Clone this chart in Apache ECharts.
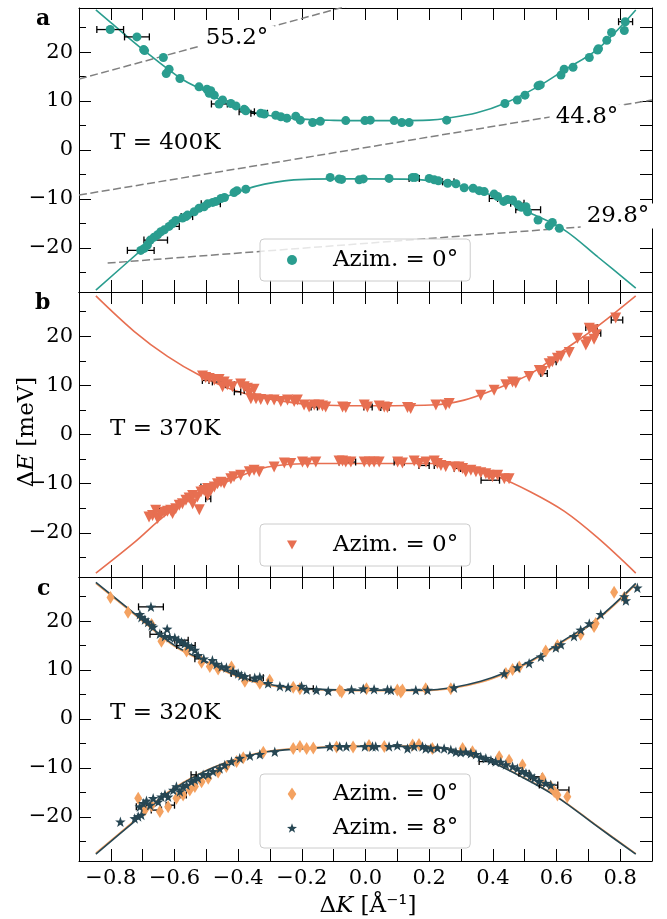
<!DOCTYPE html>
<html><head><meta charset="utf-8">
<script src="https://cdn.jsdelivr.net/npm/echarts@6/dist/echarts.min.js"></script>
<style>html,body{margin:0;padding:0;background:#fff}#c{width:667px;height:919px}</style>
</head><body><div id="c"></div>
<script>
// ---------- tick values ----------
const xTicks = [-0.8,-0.7,-0.6,-0.5,-0.4,-0.3,-0.2,-0.1,0,0.1,0.2,0.3,0.4,0.5,0.6,0.7,0.8];
const xLabels = [-0.8,-0.6,-0.4,-0.2,0,0.2,0.4,0.6,0.8];
const yMajor = [-20,-10,0,10,20];
const yMinor = [-25,-15,-5,5,15,25];
const yAll = [-25,-20,-15,-10,-5,0,5,10,15,20,25];

// ---------- panel a (T = 400K) ----------
const aUp = [[-0.802,24.6],[-0.718,23.1],[-0.697,20.5],[-0.694,20.3],[-0.635,18.9],[-0.626,15.6],[-0.617,16.5],[-0.583,14.6],[-0.523,12.9],[-0.498,12.4],[-0.486,12.1],[-0.475,11.2],[-0.491,11.6],[-0.449,10.2],[-0.460,9.4],[-0.423,9.5],[-0.407,9.0],[-0.381,8.3],[-0.376,8.0],[-0.329,7.5],[-0.318,7.35],[-0.282,7.1],[-0.266,6.8],[-0.247,6.5],[-0.219,6.9],[-0.205,6.1],[-0.166,5.6],[-0.142,5.85],[-0.062,6.0],[-0.002,6.0],[0.015,6.1],[0.090,6.0],[0.114,5.6],[0.137,5.6],[0.255,6.1],[0.438,9.5],[0.477,10.2],[0.501,11.2],[0.542,13.1],[0.549,13.3],[0.614,15.3],[0.624,16.5],[0.652,16.9],[0.703,18.9],[0.729,20.4],[0.732,20.7],[0.758,22.4],[0.773,24.0],[0.813,24.4],[0.816,26.2]];
const aLow = [[-0.706,-20.5],[-0.695,-20.1],[-0.685,-19.4],[-0.676,-18.4],[-0.664,-17.8],[-0.653,-17.3],[-0.643,-16.7],[-0.632,-16.3],[-0.617,-15.6],[-0.606,-15.0],[-0.596,-14.4],[-0.575,-13.9],[-0.564,-13.6],[-0.559,-13.3],[-0.538,-12.6],[-0.523,-11.9],[-0.507,-11.6],[-0.496,-11.0],[-0.480,-10.7],[-0.470,-10.5],[-0.454,-9.9],[-0.443,-9.7],[-0.413,-8.7],[-0.404,-8.3],[-0.376,-8.0],[-0.111,-5.6],[-0.083,-5.9],[-0.075,-6.0],[-0.020,-6.1],[-0.007,-5.9],[0.074,-5.8],[0.148,-5.6],[0.156,-5.6],[0.200,-5.8],[0.216,-6.1],[0.229,-6.3],[0.258,-6.8],[0.284,-6.9],[0.310,-7.7],[0.338,-7.8],[0.357,-8.3],[0.373,-8.5],[0.404,-9.0],[0.415,-9.5],[0.434,-10.5],[0.446,-10.1],[0.462,-10.2],[0.480,-11.2],[0.490,-11.7],[0.504,-11.6],[0.509,-12.6],[0.542,-14.3],[0.577,-15.5],[0.587,-14.8],[0.609,-16.0]];
const aErr = [[-0.802,24.6,0.042],[-0.718,23.1,0.039],[-0.459,9.4,0.025],[-0.373,7.8,0.024],[-0.334,7.5,0.026],[-0.706,-20.5,0.042],[-0.659,-18.4,0.037],[-0.603,-15.6,0.018],[-0.561,-13.6,0.018],[-0.486,-11.0,0.03],[0.817,26.2,0.022],[0.153,-5.8,0.016],[0.260,-6.5,0.018],[0.402,-9.9,0.013],[0.477,-10.9,0.021],[0.511,-12.2,0.039]];
const aFitUp = [[-0.847,28.6],[-0.80,26.0],[-0.697,20.4],[-0.58,14.6],[-0.50,11.9],[-0.413,8.8],[-0.308,7.1],[-0.20,6.3],[-0.10,6.05],[0,6.0],[0.10,6.0],[0.20,6.1],[0.258,6.5],[0.35,7.6],[0.436,9.5],[0.546,13.1],[0.624,16.3],[0.729,20.6],[0.849,28.6]];
const aFitLow = [[-0.847,-28.6],[-0.70,-20.2],[-0.622,-15.8],[-0.517,-11.9],[-0.376,-8.0],[-0.255,-6.3],[-0.10,-5.9],[0,-5.9],[0.153,-6.0],[0.31,-7.5],[0.415,-9.7],[0.519,-12.9],[0.624,-16.3],[0.729,-21.8],[0.849,-28.2]];
const guide552 = [[-0.9,14.5],[0.0,30.4]];
const guide448 = [[-0.9,-9.2],[0.9,10.2]];
const guide298 = [[-0.81,-23.1],[0.9,-14.6]];

// ---------- panel b (T = 370K) ----------
const bUp = [[-0.512,11.9],[-0.502,11.6],[-0.491,11.4],[-0.475,11.1],[-0.460,11.2],[-0.444,10.7],[-0.449,9.7],[-0.434,10.1],[-0.418,9.7],[-0.392,10.3],[-0.381,9.7],[-0.371,9.4],[-0.350,9.2],[-0.365,8.4],[-0.360,7.3],[-0.344,7.3],[-0.329,7.1],[-0.308,7.0],[-0.287,7.0],[-0.266,6.7],[-0.245,7.0],[-0.224,6.7],[-0.214,7.0],[-0.193,6.0],[-0.177,5.6],[-0.161,6.0],[-0.146,6.0],[-0.135,5.8],[-0.125,5.6],[-0.072,5.6],[-0.062,5.5],[-0.004,6.0],[0.006,5.6],[0.043,5.8],[0.059,5.6],[0.069,5.5],[0.132,5.5],[0.142,5.3],[0.221,6.0],[0.252,6.0],[0.263,6.3],[0.362,8.0],[0.404,9.0],[0.441,10.1],[0.462,10.7],[0.472,10.5],[0.514,11.8],[0.546,13.0],[0.556,12.8],[0.577,14.4],[0.587,14.8],[0.603,15.5],[0.614,15.9],[0.640,16.7],[0.666,19.6],[0.692,18.2],[0.697,18.9],[0.703,21.6],[0.718,21.3],[0.718,19.4],[0.724,20.3],[0.786,23.7]];
const bLow = [[-0.680,-16.8],[-0.669,-16.5],[-0.653,-17.1],[-0.643,-16.3],[-0.632,-15.8],[-0.622,-15.6],[-0.612,-15.4],[-0.596,-15.1],[-0.585,-14.4],[-0.575,-14.1],[-0.564,-13.4],[-0.554,-12.9],[-0.543,-12.4],[-0.528,-12.7],[-0.522,-15.3],[-0.517,-11.7],[-0.507,-11.4],[-0.496,-11.0],[-0.486,-11.4],[-0.475,-10.7],[-0.465,-10.0],[-0.454,-9.7],[-0.444,-9.9],[-0.423,-9.0],[-0.413,-8.6],[-0.392,-8.3],[-0.365,-7.6],[-0.350,-7.3],[-0.334,-7.6],[-0.287,-6.6],[-0.255,-5.8],[-0.235,-5.9],[-0.198,-5.6],[-0.182,-5.8],[-0.156,-5.6],[-0.083,-5.4],[-0.659,-15.4],[-0.606,-16.1],[-0.543,-14.1],[-0.496,-12.4],[-0.072,-5.4],[-0.062,-5.6],[-0.046,-5.6],[-0.004,-5.6],[0.012,-5.6],[0.027,-5.6],[0.043,-5.6],[0.101,-5.6],[0.116,-5.8],[0.153,-5.4],[0.169,-5.9],[0.190,-5.6],[0.216,-5.4],[0.226,-5.9],[0.237,-6.3],[0.252,-6.5],[0.279,-6.6],[0.294,-6.6],[0.305,-6.9],[0.315,-7.6],[0.331,-7.3],[0.347,-7.6],[0.362,-7.8],[0.378,-8.0],[0.388,-8.3],[0.399,-8.6],[0.415,-8.3],[0.436,-9.0],[0.451,-9.0]];
const bErr = [[-0.502,11.0,0.0105],[-0.465,10.7,0.016],[-0.425,10.1,0.013],[-0.402,8.7,0.010],[-0.365,9.0,0.016],[-0.161,5.6,0.010],[-0.509,-10.7,0.008],[-0.494,-13.1,0.008],[-0.638,-15.1,0.016],[0.008,5.6,0.013],[0.061,5.5,0.013],[-0.057,-5.6,0.026],[0.106,-5.6,0.016],[0.184,-6.3,0.016],[0.226,-6.3,0.010],[0.289,-6.9,0.010],[0.392,-9.3,0.029],[0.710,21.8,0.018],[0.729,20.6,0.010],[0.790,23.3,0.018],[0.561,12.4,0.010],[0.591,14.8,0.008]];
const bFitUp = [[-0.847,28.2],[-0.727,21.0],[-0.622,15.9],[-0.517,11.9],[-0.413,9.0],[-0.308,7.3],[-0.151,6.0],[-0.004,5.85],[0.205,6.0],[0.31,7.0],[0.415,9.4],[0.519,12.4],[0.624,17.2],[0.729,22.0],[0.849,28.2]];
const bFitLow = [[-0.847,-28.2],[-0.727,-22.0],[-0.622,-16.1],[-0.517,-12.0],[-0.413,-9.0],[-0.308,-6.6],[-0.151,-5.9],[-0.004,-5.9],[0.205,-5.9],[0.31,-6.6],[0.415,-8.6],[0.519,-11.7],[0.624,-15.6],[0.729,-21.0],[0.849,-28.2]];

// ---------- panel c (T = 320K) ----------
const c0Up = [[-0.801,24.8],[-0.746,21.8],[-0.672,19.3],[-0.641,15.9],[-0.562,13.9],[-0.515,11.6],[-0.489,10.7],[-0.463,10.2],[-0.421,10.6],[-0.379,7.7],[-0.332,7.3],[-0.301,7.9],[-0.227,6.5],[-0.206,6.2],[-0.081,5.8],[-0.075,5.5],[0.003,6.2],[0.100,5.9],[0.111,5.5],[0.116,5.9],[0.189,6.2],[0.268,6.2],[0.441,9.3],[0.462,10.1],[0.483,10.6],[0.566,13.9],[0.603,15.0],[0.676,17.3],[0.718,18.9],[0.723,19.5],[0.781,25.9],[0.813,24.8]];
const c0Low = [[-0.714,-16.2],[-0.693,-18.6],[-0.672,-17.7],[-0.646,-18.9],[-0.620,-17.9],[-0.594,-16.2],[-0.573,-15.5],[-0.552,-14.5],[-0.536,-13.8],[-0.515,-12.8],[-0.494,-12.1],[-0.463,-10.8],[-0.437,-9.7],[-0.405,-8.7],[-0.384,-7.9],[-0.321,-6.8],[-0.227,-6.0],[-0.206,-5.6],[-0.185,-6.0],[-0.164,-5.9],[-0.091,-5.7],[-0.039,-5.7],[0.011,-5.4],[0.059,-5.6],[0.148,-5.3],[0.168,-5.2],[0.210,-6.0],[0.305,-6.0],[0.336,-6.7],[0.420,-7.7],[0.451,-8.4],[0.493,-9.4],[0.556,-12.1],[0.582,-13.8],[0.593,-14.8],[0.603,-15.5],[0.634,-15.9]];
const c8Up = [[-0.674,22.9],[-0.709,21.4],[-0.704,20.8],[-0.693,20.3],[-0.683,19.8],[-0.672,19.1],[-0.667,18.8],[-0.623,18.4],[-0.646,17.4],[-0.630,16.9],[-0.615,16.7],[-0.599,16.6],[-0.588,16.1],[-0.578,15.7],[-0.568,15.4],[-0.557,15.0],[-0.547,14.6],[-0.536,14.1],[-0.526,13.0],[-0.508,12.3],[-0.481,12.0],[-0.468,11.2],[-0.452,10.7],[-0.437,10.5],[-0.416,9.8],[-0.400,9.3],[-0.390,8.9],[-0.379,8.7],[-0.348,8.4],[-0.332,8.6],[-0.306,7.3],[-0.269,6.7],[-0.243,6.5],[-0.201,6.7],[-0.185,6.0],[-0.154,5.9],[-0.117,5.7],[-0.044,6.0],[-0.007,6.2],[0.027,6.1],[0.069,6.0],[0.080,5.9],[0.158,5.9],[0.195,5.9],[0.278,6.4],[0.436,9.3],[0.477,10.5],[0.514,11.4],[0.551,12.7],[0.598,14.6],[0.614,15.2],[0.655,16.9],[0.676,18.2],[0.703,19.5],[0.739,21.4],[0.813,25.0],[0.818,24.2],[0.854,26.8]];
const c8Low = [[-0.770,-21.0],[-0.725,-20.3],[-0.714,-19.9],[-0.704,-19.6],[-0.709,-17.9],[-0.698,-17.2],[-0.688,-16.7],[-0.677,-17.6],[-0.667,-16.2],[-0.651,-16.9],[-0.641,-15.9],[-0.630,-15.4],[-0.620,-15.9],[-0.604,-14.5],[-0.594,-13.8],[-0.583,-14.8],[-0.573,-13.8],[-0.562,-13.5],[-0.547,-12.8],[-0.536,-12.4],[-0.526,-12.1],[-0.510,-11.4],[-0.494,-11.3],[-0.479,-10.7],[-0.458,-10.1],[-0.442,-9.4],[-0.421,-8.7],[-0.395,-8.0],[-0.363,-7.5],[-0.332,-7.2],[-0.285,-6.7],[-0.112,-5.6],[-0.081,-5.6],[-0.060,-5.6],[-0.002,-5.6],[0.022,-5.6],[0.032,-5.6],[0.074,-5.6],[0.100,-5.4],[0.132,-6.0],[0.153,-5.6],[0.179,-5.6],[0.189,-6.0],[0.205,-6.0],[0.226,-5.9],[0.247,-6.0],[0.268,-6.3],[0.284,-6.7],[0.299,-6.8],[0.315,-6.7],[0.331,-7.0],[0.347,-7.2],[0.362,-7.7],[0.378,-8.0],[0.394,-8.4],[0.409,-8.7],[0.425,-8.8],[0.441,-9.3],[0.462,-9.7],[0.477,-10.1],[0.493,-10.7],[0.504,-11.1],[0.519,-11.6],[0.530,-12.1],[0.545,-12.7],[0.566,-13.1],[0.582,-13.5]];
const cErr = [[-0.674,22.9,0.039],[-0.659,17.3,0.018],[-0.578,16.1,0.021],[-0.564,15.0,0.029],[-0.526,12.3,0.010],[-0.414,9.3,0.008],[-0.342,8.4,0.021],[-0.185,6.2,0.021],[-0.704,-17.9,0.016],[-0.657,-18.6,0.016],[-0.613,-17.6,0.013],[-0.573,-15.5,0.010],[-0.540,-11.4,0.008],[0.498,-11.1,0.016],[0.537,-11.8,0.018],[0.575,-13.5,0.029],[0.621,-14.5,0.018],[0.378,-8.7,0.021]];
const c8FitUp = [[-0.847,27.9],[-0.706,20.5],[-0.601,15.1],[-0.496,11.6],[-0.392,8.6],[-0.287,6.9],[-0.151,6.1],[-0.004,5.9],[0.184,5.9],[0.279,6.5],[0.362,7.7],[0.436,9.4],[0.519,11.9],[0.624,16.1],[0.729,20.5],[0.849,27.7]];
const c8FitLow = [[-0.847,-27.6],[-0.727,-21.0],[-0.622,-15.2],[-0.517,-11.1],[-0.413,-8.4],[-0.308,-6.7],[-0.151,-5.9],[-0.004,-5.6],[0.184,-5.6],[0.289,-6.6],[0.394,-8.8],[0.498,-12.1],[0.603,-16.0],[0.729,-22.0],[0.849,-27.6]];
const c0FitUp = [[-0.847,27.7],[-0.706,20.3],[-0.601,14.9],[-0.496,11.4],[-0.392,8.4],[-0.287,6.7],[-0.151,6.0],[-0.004,5.8],[0.184,5.8],[0.279,6.35],[0.362,7.5],[0.436,9.2],[0.519,11.7],[0.624,15.9],[0.729,20.3],[0.849,27.5]];
const c0FitLow = [[-0.847,-27.4],[-0.727,-20.8],[-0.622,-15.0],[-0.517,-11.0],[-0.413,-8.3],[-0.308,-6.6],[-0.151,-5.8],[-0.004,-5.5],[0.184,-5.5],[0.289,-6.5],[0.394,-8.7],[0.498,-12.0],[0.603,-15.9],[0.729,-21.9],[0.849,-27.5]];

const legendText = {a0:'Azim. = 0°', b0:'Azim. = 0°', c0:'Azim. = 0°', c8:'Azim. = 8°'};

// ---------- styling ----------
const FONT = 'DejaVu Serif';
const TEAL = '#2a9d8f', RED = '#e76f51', ORANGE = '#f4a261', DARK = '#264653';
const STAR = 'path://M0,-10L2.35,-3.24L9.51,-3.09L3.8,1.24L5.88,8.09L0,4L-5.88,8.09L-3.8,1.24L-9.51,-3.09L-2.35,-3.24Z';
const TRI_DOWN = 'path://M0,0L10,0L5,9Z';
const THIN_D = 'path://M4,0L8,6L4,12L0,6Z';
const grids = [{top:8,height:284},{top:292,height:285},{top:577,height:284}];

function xFmt(v){ return v.toFixed(1).replace('-','\u2212').replace('\u22120.0','0.0'); }
function yFmt(v){ return String(Math.round(v)).replace('-','\u2212'); }

const xAxis = [], yAxis = [];
grids.forEach((g, i) => {
  const line = {show:true, onZero:false, lineStyle:{color:'#000', width:1}};
  const tick = len => ({show:true, inside:true, length:len, lineStyle:{color:'#000', width:1}});
  xAxis.push({type:'value', gridIndex:i, position:'bottom', min:-0.9, max:0.9, axisLine:line,
    axisTick:Object.assign(tick(12), {customValues:xTicks}),
    axisLabel:{show:i===2, customValues:xLabels, formatter:xFmt, margin:7, color:'#000', fontFamily:FONT, fontSize:21},
    splitLine:{show:false}});
  xAxis.push({type:'value', gridIndex:i, position:'top', min:-0.9, max:0.9, axisLine:line,
    axisTick:Object.assign(tick(12), {customValues:xTicks}), axisLabel:{show:false}, splitLine:{show:false}});
  yAxis.push({type:'value', gridIndex:i, position:'left', min:-29, max:29, axisLine:line,
    axisTick:Object.assign(tick(12), {customValues:yMajor}),
    axisLabel:{show:true, customValues:yMajor, formatter:yFmt, margin:6, color:'#000', fontFamily:FONT, fontSize:21},
    splitLine:{show:false}});
  yAxis.push({type:'value', gridIndex:i, position:'left', min:-29, max:29, axisLine:{show:false, onZero:false},
    axisTick:Object.assign(tick(7), {customValues:yMinor}), axisLabel:{show:false}, splitLine:{show:false}});
  yAxis.push({type:'value', gridIndex:i, position:'right', min:-29, max:29, axisLine:line,
    axisTick:Object.assign(tick(12), {customValues:yAll}), axisLabel:{show:false}, splitLine:{show:false}});
});

function errRender(params, api){
  const x = api.value(0), y = api.value(1), e = api.value(2);
  const p1 = api.coord([x - e, y]), p2 = api.coord([x + e, y]);
  const c = 3.5, st = {stroke:'#000', lineWidth:1.3};
  return {type:'group', children:[
    {type:'line', shape:{x1:p1[0], y1:p1[1], x2:p2[0], y2:p2[1]}, style:st},
    {type:'line', shape:{x1:p1[0], y1:p1[1]-c, x2:p1[0], y2:p1[1]+c}, style:st},
    {type:'line', shape:{x1:p2[0], y1:p2[1]-c, x2:p2[0], y2:p2[1]+c}, style:st}
  ]};
}
function fit(data, color, g, z){
  return {type:'line', xAxisIndex:2*g, yAxisIndex:3*g, data:data, smooth:0.35, showSymbol:false, symbol:'none',
    lineStyle:{color:color, width:1.6}, z:z||2, silent:true};
}
function guide(data){
  return {type:'line', xAxisIndex:0, yAxisIndex:0, data:data, showSymbol:false, symbol:'none',
    lineStyle:{color:'#808080', width:1.5, type:[8,3.5]}, z:1, silent:true};
}
function errs(data, g){
  return {type:'custom', xAxisIndex:2*g, yAxisIndex:3*g, data:data, renderItem:errRender,
    encode:{x:0, y:1}, z:3, silent:true, clip:true};
}
function scat(name, data, g, sym, size, color, extra){
  return Object.assign({type:'scatter', name:name, xAxisIndex:2*g, yAxisIndex:3*g, data:data,
    symbol:sym, symbolSize:size, itemStyle:{color:color, opacity:1}, z:4, silent:true}, extra||{});
}

const series = [
  guide(guide552), guide(guide448), guide(guide298),
  fit(aFitUp, TEAL, 0), fit(aFitLow, TEAL, 0),
  errs(aErr, 0),
  scat('a0', aUp.concat(aLow), 0, 'circle', 9, TEAL),
  fit(bFitUp, RED, 1), fit(bFitLow, RED, 1),
  errs(bErr, 1),
  scat('b0', bUp.concat(bLow), 1, 'triangle', 11, RED, {symbolRotate:180}),
  fit(c0FitUp, ORANGE, 2), fit(c0FitLow, ORANGE, 2),
  fit(c8FitUp, DARK, 2, 2.5), fit(c8FitLow, DARK, 2, 2.5),
  errs(cErr, 2),
  scat('c0', c0Up.concat(c0Low), 2, 'diamond', [8,13], ORANGE),
  scat('c8', c8Up.concat(c8Low), 2, STAR, 10.5, DARK, {z:5})
];

function legend(top, data, vertical){
  return {top:top, left:260, orient: vertical ? 'vertical' : 'horizontal', selectedMode:false,
    data:data, itemWidth:10, itemHeight: vertical ? 13 : 10, itemGap:10,
    padding:[vertical?8:9, 12, vertical?8:9, 27],
    formatter: n => legendText[n],
    textStyle:{fontFamily:FONT, fontSize:23, color:'#000', lineHeight:24, padding:[0,0,0,31]},
    backgroundColor:'rgba(255,255,255,0.8)', borderColor:'#cccccc', borderWidth:1, borderRadius:4};
}

function txt(x, y, s, size, opts){
  return Object.assign({type:'text', x:x, y:y, z:100, silent:true,
    style:Object.assign({text:s, fontFamily:FONT, fontSize:size, fill:'#000',
      align:'left', verticalAlign:'middle', textAlign:'left', textVerticalAlign:'middle'}, (opts||{}).style||{})},
    (opts||{}).el||{});
}
const angleBox = {backgroundColor:'#fff', padding:[1,6]};

const option = {
  animation:false,
  backgroundColor:'#fff',
  grid: grids.map(g => ({left:79, width:573, top:g.top, height:g.height, outerBoundsMode:'none', containLabel:false})),
  xAxis: xAxis, yAxis: yAxis,
  legend: [
    legend(239, [{name:'a0', icon:'circle'}]),
    legend(524, [{name:'b0', icon:TRI_DOWN}]),
    legend(774, [{name:'c0', icon:THIN_D},{name:'c8', icon:STAR}], true)
  ],
  series: series,
  graphic: [
    txt(36, 19, 'a', 22, {style:{fontWeight:'bold'}}),
    txt(35, 303, 'b', 22, {style:{fontWeight:'bold'}}),
    txt(37, 589, 'c', 22, {style:{fontWeight:'bold'}}),
    txt(110, 143, 'T = 400K', 23),
    txt(110, 429, 'T = 370K', 23),
    txt(110, 713, 'T = 320K', 23),
    txt(237, 38, '55.2°', 23, {style:Object.assign({align:'center', textAlign:'center'}, angleBox)}),
    txt(587, 117, '44.8°', 23, {style:Object.assign({align:'center', textAlign:'center'}, angleBox)}),
    txt(618, 216, '29.8°', 23, {style:Object.assign({align:'center', textAlign:'center'}, angleBox)}),
    {type:'text', x:27, y:432, rotation:Math.PI/2, z:100, silent:true,
      style:{text:'{n|Δ}{i|E}{n| [meV]}', align:'center', verticalAlign:'middle', textAlign:'center', textVerticalAlign:'middle', fill:'#000',
        fontFamily:FONT, fontSize:23,
        rich:{n:{fontFamily:FONT, fontSize:23, fill:'#000'}, i:{fontFamily:FONT, fontSize:23, fontStyle:'italic', fill:'#000'}}}},
    {type:'text', x:368, y:906, z:100, silent:true,
      style:{text:'{n|Δ}{i|K}{n| [Å⁻¹]}', align:'center', verticalAlign:'middle', textAlign:'center', textVerticalAlign:'middle', fill:'#000',
        fontFamily:FONT, fontSize:23,
        rich:{n:{fontFamily:FONT, fontSize:23, fill:'#000'}, i:{fontFamily:FONT, fontSize:23, fontStyle:'italic', fill:'#000'}}}}
  ]
};
const chart = echarts.init(document.getElementById('c'), null, {renderer:'canvas'});
chart.setOption(option);
</script>
</body></html>
